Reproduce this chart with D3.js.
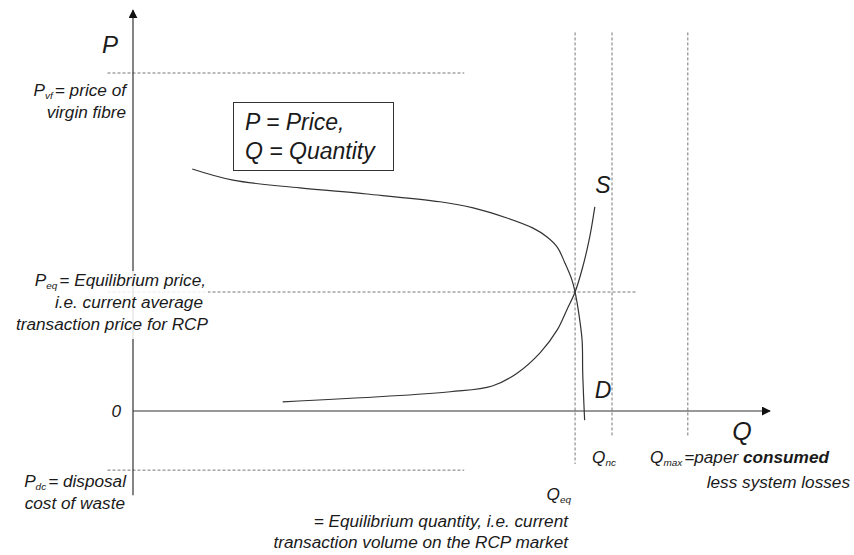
<!DOCTYPE html>
<html>
<head>
<meta charset="utf-8">
<script src="https://cdn.jsdelivr.net/npm/d3@7"></script>
<style>
  body { margin: 0; background: #fff; }
  svg { font-family: "Liberation Sans", Arial, sans-serif; font-style: italic; }
</style>
</head>
<body>
<div id="chart"></div>
<script>
// Demand curve (Q, P)
var demandQ = [9.3, 15.7, 26.2, 36.7, 48.2, 53.4, 58.7, 62.8, 65.0, 66.6, 67.8, 68.9, 69.4, 69.9, 70.5, 70.6, 70.9];
var demandP = [71.6, 68.3, 66.0, 64.2, 61.9, 60.1, 57.1, 54.1, 51.5, 48.5, 43.8, 38.8, 35.2, 29.9, 21.0, 11.2, -2.7];

// Supply curve (Q, P)
var supplyQ = [23.5, 49.8, 56.4, 60.3, 63.9, 66.6, 68.1, 69.4, 70.6, 71.7, 72.5];
var supplyP = [2.7, 5.7, 7.4, 11.2, 17.2, 24.0, 29.9, 35.2, 42.6, 51.5, 60.4];

// reference levels
var priceLevels = [100, 35.2, -17.5];      // Pvf, Peq, Pdc
var priceLineEnds = [52, 79, 52];
var qtyLevels = [69.4, 75.2, 87.1];         // Qeq, Qnc, Qmax
var qtyLineEnds = [-15.7, -7.5, -7.5];

var width = 854, height = 555;

var svg = d3.select("#chart")
  .append("svg")
    .attr("width", width)
    .attr("height", height);

var x = d3.scaleLinear().domain([0, 100]).range([133, 770]);
var y = d3.scaleLinear().domain([0, 100]).range([411, 73]);

var textColor = "#1a1a1a";
var dashColor = "#777";

// horizontal dashed lines
priceLevels.forEach(function(p, i) {
  svg.append("line")
    .attr("x1", x(-4)).attr("x2", x(priceLineEnds[i]))
    .attr("y1", y(p)).attr("y2", y(p))
    .attr("stroke", dashColor)
    .attr("stroke-width", 1)
    .attr("stroke-dasharray", "3,2");
});

// vertical dashed lines
qtyLevels.forEach(function(q, i) {
  svg.append("line")
    .attr("x1", x(q)).attr("x2", x(q))
    .attr("y1", y(112)).attr("y2", y(qtyLineEnds[i]))
    .attr("stroke", dashColor)
    .attr("stroke-width", 1)
    .attr("stroke-dasharray", "3,2");
});

// arrow marker
svg.append("defs").append("marker")
    .attr("id", "arrow")
    .attr("viewBox", "0 0 10 10")
    .attr("refX", 9).attr("refY", 5)
    .attr("markerWidth", 9).attr("markerHeight", 9)
    .attr("markerUnits", "userSpaceOnUse")
    .attr("orient", "auto")
  .append("path")
    .attr("d", "M0,0 L10,5 L0,10 Z")
    .attr("fill", "#111");

// axes
svg.append("line")
  .attr("x1", x(0)).attr("x2", x(0))
  .attr("y1", y(-24.9)).attr("y2", y(118.6))
  .attr("stroke", "#333").attr("stroke-width", 1.2)
  .attr("marker-end", "url(#arrow)");

svg.append("line")
  .attr("x1", x(0)).attr("x2", x(100))
  .attr("y1", y(0)).attr("y2", y(0))
  .attr("stroke", "#333").attr("stroke-width", 1.2)
  .attr("marker-end", "url(#arrow)");

// curves
var line = d3.line()
  .x(function(d) { return x(d[0]); })
  .y(function(d) { return y(d[1]); })
  .curve(d3.curveCatmullRom);

svg.append("path")
  .datum(d3.zip(demandQ, demandP))
  .attr("d", line)
  .attr("fill", "none")
  .attr("stroke", "#333")
  .attr("stroke-width", 1.2);

svg.append("path")
  .datum(d3.zip(supplyQ, supplyP))
  .attr("d", line)
  .attr("fill", "none")
  .attr("stroke", "#333")
  .attr("stroke-width", 1.2);

// helper for text lines
function label(xp, yp, anchor, size, parts) {
  var t = svg.append("text")
    .attr("x", xp).attr("y", yp)
    .attr("text-anchor", anchor)
    .attr("fill", textColor)
    .style("font-size", size + "px");
  parts.forEach(function(p) {
    var s = t.append("tspan").text(p.t);
    if (p.sub) {
      s.style("font-size", (size * 0.58) + "px").attr("dy", 2.5);
    }
    if (p.up) s.attr("dy", -2.5).attr("dx", 2);
    if (p.bold) s.style("font-weight", "bold");
  });
  return t;
}

var small = 17.2;

// white backing behind Peq text
svg.append("rect")
  .attr("x", 4).attr("y", 271)
  .attr("width", 204).attr("height", 68)
  .attr("fill", "#fff")
  .attr("opacity", 0.85);

label(118, 53, "end", 24, [{t: "P"}]);
label(126, 96, "end", small, [{t: "P"}, {t: "vf", sub: true}, {t: "= price of", up: true}]);
label(126, 118, "end", small, [{t: "virgin fibre"}]);

label(206, 286, "end", small, [{t: "P"}, {t: "eq", sub: true}, {t: "= Equilibrium  price,", up: true}]);
label(203, 308, "end", small, [{t: "i.e. current average"}]);
label(208, 330, "end", small, [{t: "transaction price for RCP"}]);

label(121, 417, "end", small, [{t: "0"}]);

label(126, 487, "end", small, [{t: "P"}, {t: "dc", sub: true}, {t: "= disposal", up: true}]);
label(125, 509, "end", small, [{t: "cost of waste"}]);

// legend box
svg.append("rect")
  .attr("x", 233.5).attr("y", 102.5)
  .attr("width", 160).attr("height", 68)
  .attr("fill", "#fff")
  .attr("stroke", "#333")
  .attr("stroke-width", 1);
label(245, 130, "start", 23, [{t: "P = Price,"}]);
label(245, 159, "start", 23, [{t: "Q = Quantity"}]);

label(603, 193, "middle", 23, [{t: "S"}]);
label(603, 398, "middle", 23, [{t: "D"}]);
label(742, 440, "middle", 25, [{t: "Q"}]);

label(571, 500, "end", small, [{t: "Q"}, {t: "eq", sub: true}]);
label(568, 527, "end", small, [{t: "=  Equilibrium quantity, i.e. current"}]);
label(568, 548, "end", small, [{t: "transaction volume on the RCP market"}]);

label(592, 463, "start", small, [{t: "Q"}, {t: "nc", sub: true}]);
label(650, 463, "start", small, [{t: "Q"}, {t: "max", sub: true}, {t: "=paper ", up: true}, {t: "consumed", bold: true}]);
label(850, 488, "end", small, [{t: "less system losses"}]);
</script>
</body>
</html>
